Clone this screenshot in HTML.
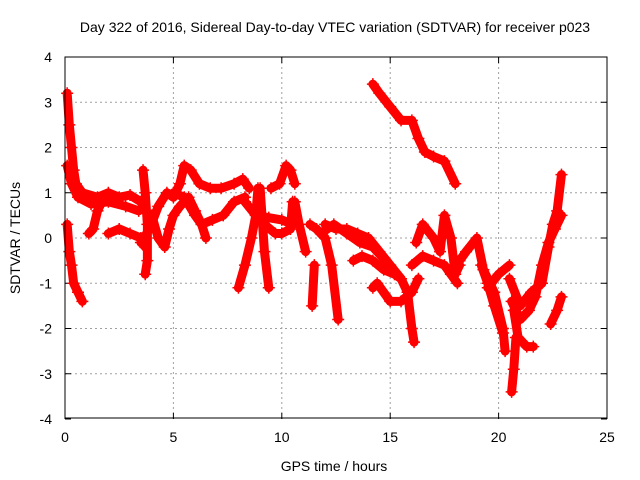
<!DOCTYPE html>
<html><head><meta charset="utf-8"><style>
body{margin:0;background:#fff}
svg{display:block;font-family:"Liberation Sans",sans-serif}
</style></head><body>
<svg id="c" width="640" height="480">
<text x="335" y="32" text-anchor="middle" font-size="14">Day 322 of 2016, Sidereal Day-to-day VTEC variation (SDTVAR) for receiver p023</text>
<text x="334" y="471" text-anchor="middle" font-size="14">GPS time / hours</text>
<text transform="translate(20,238) rotate(-90)" text-anchor="middle" font-size="14">SDTVAR / TECUs</text>
<g id="grid"></g><g id="ticks"></g><g id="marks"></g>
<rect x="65" y="57" width="542" height="361" fill="none" stroke="#000" stroke-width="1"/>
</svg>
<script>
const xTicks=[0,5,10,15,20,25];
const yTicks=[-4,-3,-2,-1,0,1,2,3,4];
const tracks=[
[[0.1,3.2],[0.2,2.5],[0.3,2.0],[0.4,1.5],[0.5,1.2],[0.8,1.0],[1.5,0.9],[2,1.0],[2.5,0.9],[3,0.95],[3.5,0.8],[3.7,0.6]],
[[0.1,1.6],[0.3,1.2],[0.6,0.9],[1.2,0.75],[2,0.8],[2.8,0.7],[3.4,0.6]],
[[0.1,0.3],[0.2,-0.3],[0.3,-0.6],[0.4,-1.0],[0.6,-1.2],[0.8,-1.4]],
[[1.1,0.1],[1.3,0.2],[1.5,0.6],[1.7,0.8]],
[[2,0.1],[2.5,0.2],[3.0,0.1],[3.5,0],[3.7,-0.2]],
[[3.6,1.5],[3.7,1.0],[3.8,0.3],[3.8,-0.5],[3.7,-0.8]],
[[3.5,-0.1],[3.9,0.2],[4.3,0.7],[4.7,1.0],[5.0,0.9],[5.3,1.2],[5.5,1.6],[5.8,1.5],[6.2,1.2],[6.7,1.1],[7.2,1.1],[7.8,1.2],[8.2,1.3],[8.5,1.1]],
[[4.0,0.5],[4.3,0.0],[4.6,-0.2],[4.8,0.2],[5,0.5],[5.3,0.7],[5.7,0.9],[6,0.6],[6.3,0.3],[6.5,0.0]],
[[5,1.0],[5.5,0.9],[6,0.5],[6.3,0.3],[6.8,0.4],[7.3,0.5],[7.8,0.8],[8.3,0.9]],
[[8.0,-1.1],[8.3,-0.6],[8.6,0.0],[8.8,0.5],[8.9,1.1]],
[[9.0,1.1],[9.1,0.4],[9.2,-0.3],[9.4,-1.1]],
[[8.3,0.8],[8.8,0.5],[9.4,0.45],[10,0.4],[10.5,0.3]],
[[9.2,0.3],[9.7,0.1],[10.0,0.1],[10.4,0.2],[10.5,0.8]],
[[9.5,1.1],[9.9,1.2],[10.2,1.6],[10.4,1.5],[10.6,1.2]],
[[10.6,0.8],[10.8,0.3],[11.1,-0.3]],
[[11.3,0.3],[11.6,0.2],[12,0.0],[12.3,-0.6],[12.6,-1.8]],
[[11.5,-0.6],[11.4,-1.5]],
[[14.2,3.4],[14.5,3.2],[15,2.9],[15.5,2.6],[16,2.6],[16.3,2.2],[16.6,1.9],[17,1.8],[17.5,1.7],[18,1.2]],
[[12,0.3],[12.5,0.2],[13,0.2],[13.5,0.1],[14,0],[14.5,-0.3],[15,-0.6],[15.5,-0.9],[15.8,-1.2],[16,-2.0],[16.1,-2.3]],
[[11.8,0.1],[12.4,0.3],[13,0.1],[13.6,-0.1],[14.2,-0.2],[14.8,-0.5]],
[[13.3,-0.5],[13.7,-0.4],[14.2,-0.5],[14.7,-0.7],[15.2,-0.8],[15.5,-0.9]],
[[14.2,-1.1],[14.4,-1.0],[15,-1.4],[15.5,-1.4],[16,-1.2],[16.3,-0.9]],
[[16.2,-0.1],[16.5,0.3],[17,0.0],[17.3,-0.3],[17.5,0.5],[17.8,0],[18,-0.8],[18.2,-0.6]],
[[16.0,-0.6],[16.5,-0.4],[17,-0.5],[17.5,-0.6],[17.8,-0.8],[18.1,-1.0]],
[[18.2,-0.5],[18.5,-0.3],[19,0.0],[19.3,-0.7],[19.8,-1.2],[20.2,-2.0],[20.3,-2.5]],
[[19.2,-0.6],[19.5,-1.0],[19.8,-1.5],[20.2,-2.1]],
[[19.5,-1.1],[20,-0.8],[20.5,-0.6]],
[[20.7,-1.6],[20.9,-2.2],[21.3,-2.4],[21.6,-2.4]],
[[20.6,-3.4],[20.7,-2.9],[20.8,-2.2]],
[[20.5,-0.9],[21,-1.5],[21.5,-1.2],[22,-1.0],[22.3,-0.2],[22.5,0.3],[22.7,0.6],[22.9,1.4]],
[[20.6,-1.4],[21,-1.8],[21.4,-1.6],[21.7,-1.3],[22,-0.6],[22.3,-0.1],[22.6,0.2],[22.9,0.5]],
[[22.4,-1.9],[22.7,-1.6],[22.9,-1.3]]
];
const X0=65,X1=607,Y0=419,Y1=57;
const sx=t=>X0+(t-0)/25*(X1-X0);
const sy=v=>Y0-(v+4)/8*(Y0-Y1);
const NS="http://www.w3.org/2000/svg";
function mk(tag,a,p){const e=document.createElementNS(NS,tag);for(const k in a)e.setAttribute(k,a[k]);p.appendChild(e);return e;}
const grid=document.getElementById('grid'),ticks=document.getElementById('ticks'),marks=document.getElementById('marks');
xTicks.forEach(t=>{const x=sx(t);
 if(t>0&&t<25){const g=mk('line',{x1:x,x2:x,y1:Y1,y2:Y0,stroke:'#a0a0a0','stroke-dasharray':'2,3'},grid);
 
 }
 mk('line',{x1:x,x2:x,y1:Y0,y2:Y0-6,stroke:'#000'},ticks);
 mk('line',{x1:x,x2:x,y1:Y1,y2:Y1+6,stroke:'#000'},ticks);
 const l=mk('text',{x:x,y:442,'text-anchor':'middle','font-size':14},ticks);l.textContent=t;
 
 });
yTicks.forEach(v=>{const y=sy(v);
 if(v>-4&&v<4){const g=mk('line',{x1:X0,x2:X1,y1:y,y2:y,stroke:'#a0a0a0','stroke-dasharray':'2,3'},grid);
 
 }
 mk('line',{x1:X0,x2:X0+6,y1:y,y2:y,stroke:'#000'},ticks);
 mk('line',{x1:X1,x2:X1-6,y1:y,y2:y,stroke:'#000'},ticks);
 const l=mk('text',{x:52,y:y+5,'text-anchor':'end','font-size':14},ticks);l.textContent=v;
 
 });
tracks.forEach((tr,i)=>{
 const p=mk('polyline',{points:tr.map(d=>sx(d[0])+','+sy(d[1])).join(' '),fill:'none',stroke:'#f00','stroke-width':9,'stroke-linejoin':'round','stroke-linecap':'round'},marks);
 
 
 tr.forEach(d=>{const x=sx(d[0]),y=sy(d[1]);
  const m=mk('path',{d:`M${x-6},${y}h12M${x},${y-6}v12`,stroke:'#f00','stroke-width':1.5},marks);
  
  });
});
</script>
</body></html>
